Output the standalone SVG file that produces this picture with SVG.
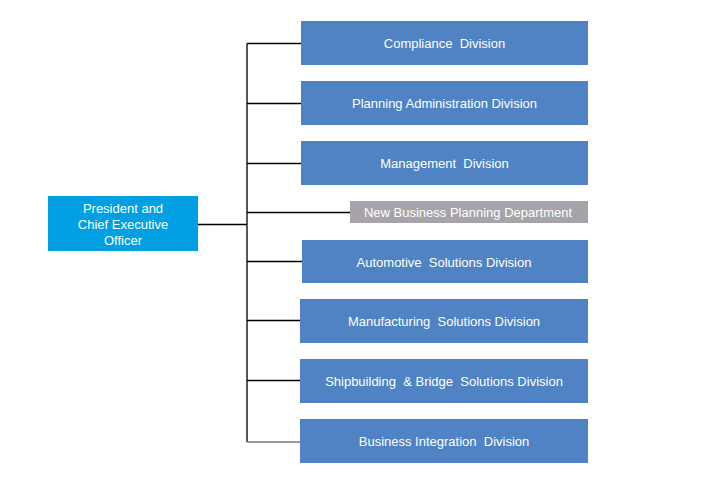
<svg xmlns="http://www.w3.org/2000/svg" width="712" height="483" viewBox="0 0 712 483">
<style>
.div{fill:#4F83C4}
.gray{fill:#A6A4AA}
.ceo{fill:#00A0E2}
text{font-family:"Liberation Sans",Arial,sans-serif;font-size:13px;fill:#fff;text-anchor:middle;white-space:pre}
.ln{stroke:#000;stroke-width:1.3;fill:none}
</style>
<rect width="712" height="483" fill="#fff"/>
<g id="connectors">
<path class="ln" d="M198 224.5H247M247 43.5V442M247 43.5H301M247 103.5H301M247 163.5H301M247 212.5H350M247 261.5H302M247 320.5H300M247 380.5H300"/>
<path d="M247 442H300" stroke="#777" stroke-width="1.5" fill="none"/>
</g>
<g id="ceo"><rect class="ceo" x="48" y="196" width="150" height="55"/>
<text x="123" y="213">President and</text><text x="123" y="229">Chief Executive</text><text x="123" y="245">Officer</text></g>
<g id="compliance"><rect class="div" x="301" y="21" width="287" height="44"/><text x="444.5" y="48">Compliance  Division</text></g>
<g id="planning"><rect class="div" x="301" y="81" width="287" height="44"/><text x="444.5" y="108">Planning Administration Division</text></g>
<g id="management"><rect class="div" x="301" y="141" width="287" height="44"/><text x="444.5" y="168">Management  Division</text></g>
<g id="newbusiness"><rect class="gray" x="350" y="201" width="238" height="22"/><text x="468" y="216.5">New Business Planning Department</text></g>
<g id="automotive"><rect class="div" x="302" y="240" width="286" height="43"/><text x="444" y="266.5">Automotive  Solutions Division</text></g>
<g id="manufacturing"><rect class="div" x="300" y="299" width="288" height="44"/><text x="444" y="325.5">Manufacturing  Solutions Division</text></g>
<g id="shipbuilding"><rect class="div" x="300" y="359" width="288" height="44"/><text x="444" y="385.5">Shipbuilding  &amp; Bridge  Solutions Division</text></g>
<g id="integration"><rect class="div" x="300" y="419" width="288" height="44"/><text x="444" y="445.5">Business Integration  Division</text></g>
</svg>
